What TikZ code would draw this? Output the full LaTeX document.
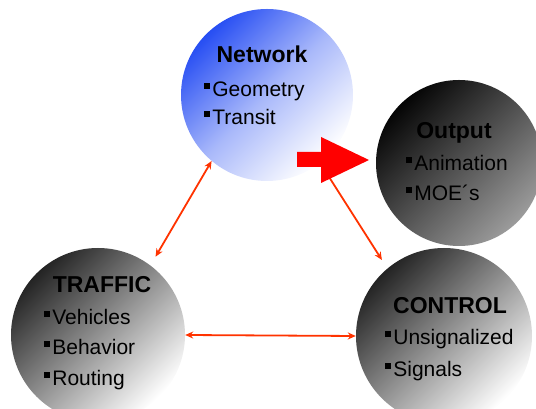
\documentclass[tikz,border=0pt]{standalone}
\usepackage{fontspec}
\setmainfont{Liberation Sans}
\usetikzlibrary{arrows.meta}
\definecolor{netblue}{RGB}{39,78,243}
\definecolor{linkred}{RGB}{255,51,0}
\newcommand{\sqbul}{\rule[0.37em]{0.32em}{0.32em}\hspace{0.1em}}
\tikzset{
  bubble/.style={circle,minimum size=172pt,inner sep=0pt},
  head/.style={anchor=base,font=\fontsize{23}{27}\selectfont\bfseries},
  item/.style={anchor=base west,font=\fontsize{21}{25}\selectfont},
  link/.style={linkred,line width=1.8pt,>={Stealth[length=8pt,width=7pt]}},
}
\begin{document}
\begin{tikzpicture}[x=1pt,y=1pt]
  \useasboundingbox (0,0) rectangle (536,409);
  % bubbles
  \node[bubble,top color=netblue,bottom color=white,middle color=netblue!40!white,shading angle=45] (net) at (267,314) {};
  \node[bubble,top color=black!98,bottom color=black!39,shading angle=45,minimum size=166pt] (out) at (459,246) {};
  \node[bubble,top color=black!86,bottom color=white,shading angle=45,minimum size=174pt] (trf) at (98,74) {};
  \node[bubble,top color=black!86,bottom color=white,shading angle=45,minimum size=176pt] (ctl) at (444,73) {};
  % links
  \draw[link,<->,shorten >=10pt] (net.230) -- (trf.53);
  \draw[link,->,shorten >=10pt] (net.-52) -- (ctl.130);
  \draw[link,<->] (trf.east) -- (ctl.west);
  % big arrow to output
  \fill[red] (297,257) -- (321,257) -- (321,272) -- (369,249) -- (321,226) -- (321,242) -- (297,242) -- cycle;
  % texts
  \node[head] (nethead) at (262,346) {Network};
  \node[item] (net1) at (200,312) {\sqbul Geometry};
  \node[item] (net2) at (200,284) {\sqbul Transit};
  \node[head] (outhead) at (454,270) {Output};
  \node[item] (out1) at (402,238) {\sqbul Animation};
  \node[item] (out2) at (402,208) {\sqbul MOE´s};
  \node[head] (trfhead) at (102,116) {TRAFFIC};
  \node[item] (trf1) at (40,84) {\sqbul Vehicles};
  \node[item] (trf2) at (40,54) {\sqbul Behavior};
  \node[item] (trf3) at (40,23) {\sqbul Routing};
  \node[head] (ctlhead) at (450,95) {CONTROL};
  \node[item] (ctl1) at (381,64) {\sqbul Unsignalized};
  \node[item] (ctl2) at (381,32) {\sqbul Signals};
\end{tikzpicture}
\end{document}
